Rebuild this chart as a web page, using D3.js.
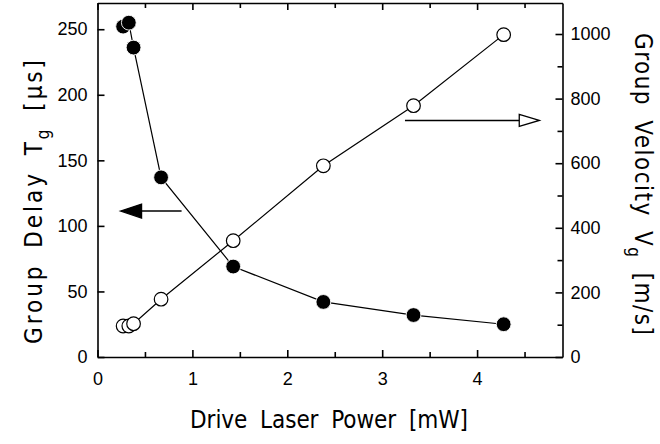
<!DOCTYPE html>
<html>
<head>
<meta charset="utf-8">
<script src="https://cdn.jsdelivr.net/npm/d3@7"></script>
<style>
  html, body { margin: 0; padding: 0; background: #fff; }
  svg { display: block; font-family: "Liberation Sans", Arial, sans-serif; }
  .axis path, .axis line { stroke: #000; stroke-width: 1.6; }
  .axis text { font-size: 18px; fill: #000; }
  .title { font-family: "DejaVu Sans Condensed", sans-serif; fill: #000; word-spacing: 6px; }
</style>
</head>
<body>
<svg id="chart" width="660" height="444"></svg>
<script>
// Drive laser power [mW]
const power = [0.27, 0.33, 0.38, 0.67, 1.43, 2.38, 3.33, 4.28];
// Group delay Tg [us] (filled, left axis)
const groupDelay = [252, 255, 236, 137, 69, 42, 32, 25];
// Group velocity Vg [m/s] (open, right axis)
const groupVelocity = [96, 96, 103, 179, 360, 592, 778, 998];

const xTicks = [0, 1, 2, 3, 4];
const leftTicks = [0, 50, 100, 150, 200, 250];
const rightTicks = [0, 200, 400, 600, 800, 1000];

// arrows pointing to the axis each series belongs to (left-axis units)
const arrows = [
  { from: [0.886, 111.3], to: [0.243, 111.3], filled: true },
  { from: [3.24, 180.4], to: [4.655, 180.4], filled: false }
];

const svg = d3.select('#chart');
const plot = { left: 97.5, right: 562.5, top: 3, bottom: 357 };

const x = d3.scaleLinear().domain([0, 4.9]).range([plot.left, plot.right]);
const yL = d3.scaleLinear().domain([0, 270]).range([plot.bottom, plot.top]);
const yR = d3.scaleLinear().domain([0, 1096]).range([plot.bottom, plot.top]);

const MAJOR = 7, MINOR = 5;

// minor ticks first so the axis line sits on top
function minor(axisFn, scale, values, y0, x0) {
  svg.append('g')
    .attr('class', 'axis')
    .attr('transform', `translate(${x0},${y0})`)
    .call(axisFn(scale).tickValues(values).tickSizeInner(-MINOR).tickSizeOuter(0).tickFormat(''))
    .call(g => g.select('.domain').remove());
}
const xMinor = d3.range(0.5, 4.9, 1);
const rMinor = d3.range(100, 1100, 200);
minor(d3.axisBottom, x, xMinor, plot.bottom, 0);
minor(d3.axisTop, x, xMinor, plot.top, 0);
minor(d3.axisRight, yR, rMinor, 0, plot.right);

// major axes
svg.append('g')
  .attr('class', 'axis')
  .attr('transform', `translate(0,${plot.bottom})`)
  .call(d3.axisBottom(x).tickValues(xTicks).tickSizeInner(-MAJOR).tickSizeOuter(0).tickPadding(15).tickFormat(d3.format('d')));

svg.append('g')
  .attr('class', 'axis')
  .attr('transform', `translate(0,${plot.top})`)
  .call(d3.axisTop(x).tickValues(xTicks).tickSizeInner(-MAJOR).tickSizeOuter(0).tickFormat(''));

svg.append('g')
  .attr('class', 'axis')
  .attr('transform', `translate(${plot.left},0)`)
  .call(d3.axisLeft(yL).tickValues(leftTicks).tickSizeInner(-MAJOR).tickSizeOuter(0).tickPadding(10).tickFormat(d3.format('d')));

svg.append('g')
  .attr('class', 'axis')
  .attr('transform', `translate(${plot.right},0)`)
  .call(d3.axisRight(yR).tickValues(rightTicks).tickSizeInner(-MAJOR).tickSizeOuter(0).tickPadding(8).tickFormat(d3.format('d')));

// series lines
const delayPts = power.map((p, i) => [p, groupDelay[i]]);
const velPts = power.map((p, i) => [p, groupVelocity[i]]);

svg.append('path')
  .datum(delayPts)
  .attr('fill', 'none')
  .attr('stroke', '#000')
  .attr('stroke-width', 1.2)
  .attr('d', d3.line().x(d => x(d[0])).y(d => yL(d[1])));

svg.append('path')
  .datum(velPts)
  .attr('fill', 'none')
  .attr('stroke', '#000')
  .attr('stroke-width', 1.2)
  .attr('d', d3.line().x(d => x(d[0])).y(d => yR(d[1])));

// markers
svg.append('g').selectAll('circle')
  .data(velPts)
  .join('circle')
  .attr('cx', d => x(d[0]))
  .attr('cy', d => yR(d[1]))
  .attr('r', 6.8)
  .attr('fill', '#fff')
  .attr('stroke', '#000')
  .attr('stroke-width', 1.2);

svg.append('g').selectAll('circle')
  .data(delayPts)
  .join('circle')
  .attr('cx', d => x(d[0]))
  .attr('cy', d => yL(d[1]))
  .attr('r', 7.4)
  .attr('fill', '#000')
  .attr('stroke', '#fff')
  .attr('stroke-width', 0.9);

// arrows
arrows.forEach(a => {
  const x0 = x(a.from[0]), x1 = x(a.to[0]), yy = yL(a.from[1]);
  const dir = Math.sign(x1 - x0);
  const headLen = a.filled ? 21 : 20;
  const half = a.filled ? 7 : 6;
  const xb = x1 - dir * headLen;
  svg.append('line')
    .attr('x1', x0).attr('y1', yy)
    .attr('x2', a.filled ? xb + dir * 2 : xb).attr('y2', yy)
    .attr('stroke', '#000')
    .attr('stroke-width', 1.6);
  svg.append('path')
    .attr('d', `M${x1},${yy}L${xb},${yy - half}L${xb},${yy + half}Z`)
    .attr('fill', a.filled ? '#000' : '#fff')
    .attr('stroke', '#000')
    .attr('stroke-width', 1.3);
});

// axis titles
svg.append('text')
  .attr('class', 'title')
  .attr('x', 329)
  .attr('y', 428)
  .attr('text-anchor', 'middle')
  .attr('font-size', 24)
  .attr('textLength', 278)
  .text('Drive Laser Power [mW]');

const leftTitle = svg.append('text')
  .attr('class', 'title')
  .attr('transform', 'translate(42,202) rotate(-90)')
  .attr('text-anchor', 'middle')
  .attr('font-size', 24)
  .attr('textLength', 284);
leftTitle.append('tspan').text('Group Delay T');
leftTitle.append('tspan').attr('dy', 7).attr('font-size', 17).text('g');
leftTitle.append('tspan').attr('dy', -7).text(' [\u03bcs]');

const rightTitle = svg.append('text')
  .attr('class', 'title')
  .attr('transform', 'translate(635,184) rotate(90)')
  .attr('text-anchor', 'middle')
  .attr('font-size', 24)
  .attr('textLength', 302);
rightTitle.append('tspan').text('Group Velocity V');
rightTitle.append('tspan').attr('dy', 7).attr('font-size', 17).text('g');
rightTitle.append('tspan').attr('dy', -7).text(' [m/s]');
</script>
</body>
</html>
